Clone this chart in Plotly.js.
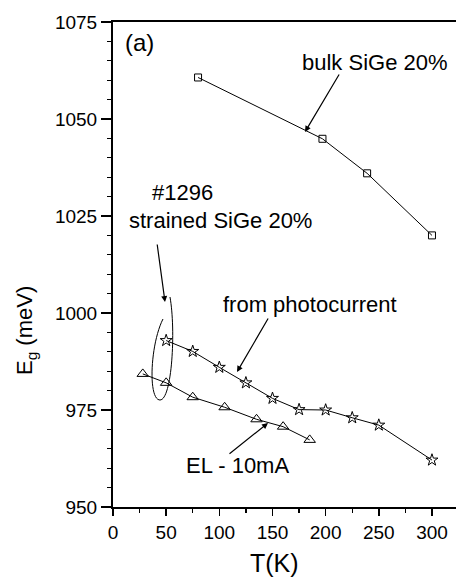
<!DOCTYPE html>
<html>
<head>
<meta charset="utf-8">
<script src="https://cdn.plot.ly/plotly-3.0.1.min.js"></script>
<style>html,body{margin:0;padding:0;background:#fff;}#chart{width:456px;height:577px;}</style>
</head>
<body>
<div id="chart"></div>
<script>
// Data
const bulkT = [80, 197, 239, 300];
const bulkEg = [1060.7, 1044.9, 1036.0, 1020.0];

const pcT = [50, 75, 100, 125, 150, 175, 200, 225, 250, 300];
const pcEg = [992.9, 990.1, 986.0, 982.0, 978.0, 975.1, 975.0, 973.0, 971.1, 962.1];

const elT = [28, 50, 75, 105, 135, 160, 185];
const elEg = [984.3, 982.0, 978.3, 975.7, 972.6, 970.7, 967.3];

const xTicks = [0, 50, 100, 150, 200, 250, 300];
const yTicks = [950, 975, 1000, 1025, 1050, 1075];

const FONT = 'Liberation Sans, Arial, Helvetica, sans-serif';

// plot-area geometry (pixels) used to place annotations
const L = 113, R = 456, T = 22, B = 507;
const px = v => (v - L) / (R - L);
const py = v => (B - v) / (B - T);

const traces = [
  {x: bulkT, y: bulkEg, mode: 'lines+markers', type: 'scatter',
   line: {color: '#000', width: 1},
   marker: {symbol: 'square-open', size: 7, color: '#000', line: {width: 1}}},
  {x: pcT, y: pcEg, mode: 'lines+markers', type: 'scatter',
   line: {color: '#000', width: 1},
   marker: {symbol: 'star-open', size: 9, color: '#000', line: {width: 1}}},
  {x: elT, y: elEg, mode: 'lines+markers', type: 'scatter',
   line: {color: '#000', width: 1},
   marker: {symbol: 'triangle-up-open', size: 10, color: '#000', line: {width: 1}}}
];

function txt(text, cx, cy, size) {
  return {text: text, xref: 'paper', yref: 'paper', x: px(cx), y: py(cy),
          xanchor: 'center', yanchor: 'middle', showarrow: false,
          font: {family: FONT, size: size, color: '#000'}};
}
function arrow(tipX, tipY, tailX, tailY) {
  return {text: '', xref: 'paper', yref: 'paper', x: px(tipX), y: py(tipY),
          ax: tailX - tipX, ay: tailY - tipY, showarrow: true,
          arrowhead: 2, arrowsize: 1, arrowwidth: 1.2, arrowcolor: '#000', standoff: 0};
}

const annotations = [
  txt('(a)', 139, 43, 24),
  txt('bulk SiGe 20%', 375, 62, 22),
  txt('#1296', 182, 193, 22),
  txt('strained SiGe 20%', 220, 220, 22),
  txt('from photocurrent', 310, 305, 22),
  txt('EL - 10mA', 237, 465, 22),
  arrow(305, 132, 340, 73),
  arrow(165, 302, 157, 243),
  arrow(237, 372, 269, 317),
  arrow(268, 423, 228, 455),
  {text: 'E<sub>g</sub> (meV)', xref: 'paper', yref: 'paper', x: px(26), y: py(331),
   xanchor: 'center', yanchor: 'middle', textangle: -90, showarrow: false,
   font: {family: FONT, size: 22, color: '#000'}},
  {text: 'T(K)', xref: 'paper', yref: 'paper', x: px(274), y: py(563),
   xanchor: 'center', yanchor: 'middle', showarrow: false,
   font: {family: FONT, size: 25, color: '#000'}}
];

const layout = {
  width: 456, height: 577,
  margin: {l: L, r: 456 - R, t: T, b: 577 - B, pad: 0},
  paper_bgcolor: '#fff', plot_bgcolor: '#fff',
  showlegend: false,
  xaxis: {range: [0, 322.6], tickvals: xTicks, ticktext: xTicks.map(String),
          showgrid: false, zeroline: false, showline: true, mirror: true,
          linecolor: '#000', linewidth: 2, ticks: 'outside', ticklen: 7, tickwidth: 1.5,
          tickcolor: '#000',
          minor: {ticks: 'outside', tickvals: [25, 75, 125, 175, 225, 275], ticklen: 4, tickwidth: 1.2, tickcolor: '#000'},
          tickfont: {family: FONT, size: 19, color: '#000'}},
  yaxis: {range: [950, 1075], tickvals: yTicks, ticktext: yTicks.map(String),
          showgrid: false, zeroline: false, showline: true, mirror: false,
          linecolor: '#000', linewidth: 2, ticks: 'outside', ticklen: 10, tickwidth: 1.5,
          tickcolor: '#000',
          minor: {ticks: 'outside', dtick: 5, ticklen: 4, tickwidth: 1.2, tickcolor: '#000'},
          tickfont: {family: FONT, size: 19, color: '#000'}},
  shapes: [
    {type: 'path', xref: 'x', yref: 'y',
     path: 'M 47.0,998.45 C 34.8,991.75 32.9,977.58 44.2,977.58 C 55.5,977.58 59.2,995.62 53.6,1004.12',
     line: {color: '#000', width: 1}}
  ],
  annotations: annotations
};

Plotly.newPlot('chart', traces, layout, {displayModeBar: false, staticPlot: true});
</script>
</body>
</html>
